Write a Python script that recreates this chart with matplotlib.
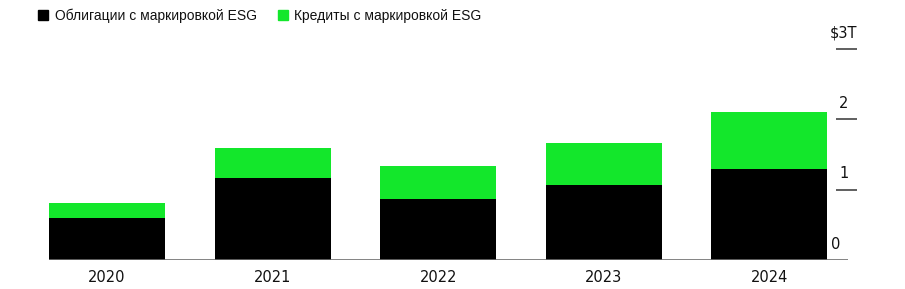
import matplotlib.pyplot as plt
import matplotlib.patches as mpatches

# ── Data (trillions of USD) ──────────────────────────────────────────────────
years = ["2020", "2021", "2022", "2023", "2024"]
bonds = [0.60, 1.17, 0.87, 1.07, 1.30]
loans = [0.21, 0.42, 0.47, 0.60, 0.80]
y_ticks = [1, 2, 3]
y_tick_labels = ["1", "2", "$3T"]

BOND_COLOR = "#000000"
LOAN_COLOR = "#13e72b"
AXIS_COLOR = "#6e6e6e"
TEXT_COLOR = "#111111"
WIDE_FONT = ["DejaVu Sans"]

plt.rcParams["font.family"] = ["Liberation Sans", "DejaVu Sans"]

fig = plt.figure(figsize=(9.05, 2.89), dpi=100)
ax = fig.add_axes([49 / 905, 1 - 260 / 289, 808 / 905, 220 / 289])

x = list(range(len(years)))
ax.bar(x, bonds, width=0.70, color=BOND_COLOR, zorder=2)
ax.bar(x, loans, width=0.70, bottom=bonds, color=LOAN_COLOR, zorder=2)

ax.set_xlim(-0.35, 4.529)
ax.set_ylim(0, 3.13)
ax.axis("off")

# baseline
ax.plot([-0.35, 4.475], [0, 0], color=AXIS_COLOR, lw=1.2, zorder=3,
        solid_capstyle="butt")

# right-side ticks with labels above them
for t, lab in zip(y_ticks, y_tick_labels):
    ax.plot([4.402, 4.529], [t, t], color="#444444", lw=1.2, clip_on=False,
            solid_capstyle="butt")
    ax.text(4.45, t + 0.12, lab, ha="center", va="bottom", fontsize=10.5,
            color=TEXT_COLOR, family=WIDE_FONT)
ax.text(4.40, 0.12, "0", ha="center", va="bottom", fontsize=10.5,
        color=TEXT_COLOR, family=WIDE_FONT)

# year labels
for xi, yr in zip(x, years):
    ax.text(xi, -0.14, yr, ha="center", va="top", fontsize=10.5,
            color=TEXT_COLOR, family=WIDE_FONT)

# legend
handles = [
    mpatches.Patch(color=BOND_COLOR, label="Облигации с маркировкой ESG"),
    mpatches.Patch(color=LOAN_COLOR, label="Кредиты с маркировкой ESG"),
]
fig.legend(handles=handles, loc="upper left", bbox_to_anchor=(30 / 905, 1.0),
           ncol=2, frameon=False, fontsize=10, handlelength=0.72,
           handleheight=0.72, handletextpad=0.45, columnspacing=1.55,
           labelcolor=TEXT_COLOR, borderaxespad=0.2)

fig.savefig("out.png", dpi=100)
